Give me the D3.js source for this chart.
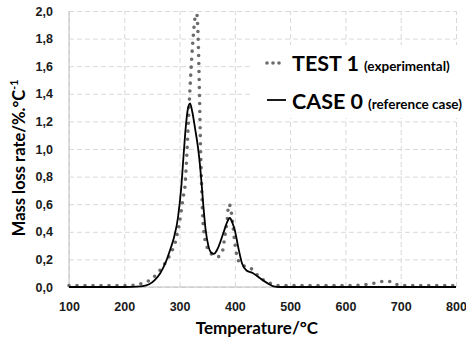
<!DOCTYPE html>
<html>
<head>
<meta charset="utf-8">
<script src="https://cdn.jsdelivr.net/npm/d3@7/dist/d3.min.js"></script>
<style>
  html, body { margin: 0; padding: 0; background: #fff; }
  svg { display: block; font-family: Lato, "Open Sans", "Liberation Sans", sans-serif; font-weight: bold; }
  .tick text { font-size: 12.5px; font-weight: bold; fill: #1a1a1a; }
  .gridline line { stroke: #d9d9d9; stroke-dasharray: 5 3; }
</style>
</head>
<body>
<div id="view"></div>
<script>
(function () {
  // ---------- Data ----------
  const xTicks = [100, 200, 300, 400, 500, 600, 700, 800];
  const yTicks = [0, 0.2, 0.4, 0.6, 0.8, 1.0, 1.2, 1.4, 1.6, 1.8, 2.0];

  // TEST 1 (experimental) - dotted
  const test1Temp = [100, 150, 200, 220, 235, 250, 260, 270, 278, 286, 292, 296, 300, 303, 306, 310,
                     313, 316, 319, 322, 325, 328, 331, 334, 336, 338, 340, 342, 345, 349, 355, 362,
                     370, 377, 382, 386, 389, 392, 396, 400, 404, 410, 418, 426, 434, 442, 452, 462,
                     472, 482, 550, 620, 640, 655, 668, 684, 695, 710, 800];
  const test1Rate = [0.01, 0.01, 0.01, 0.015, 0.03, 0.06, 0.10, 0.15, 0.20, 0.26, 0.32, 0.39, 0.47, 0.55, 0.64, 0.74,
                     0.95, 1.20, 1.45, 1.66, 1.83, 1.95, 1.98, 1.75, 1.40, 1.00, 0.72, 0.50, 0.37, 0.30, 0.25, 0.23,
                     0.22, 0.25, 0.37, 0.48, 0.60, 0.58, 0.46, 0.32, 0.22, 0.17, 0.15, 0.14, 0.12, 0.08, 0.05, 0.03,
                     0.015, 0.01, 0.01, 0.012, 0.02, 0.03, 0.04, 0.04, 0.015, 0.01, 0.01];

  // CASE 0 (reference case) - solid
  const case0Temp = [100, 200, 230, 245, 255, 265, 275, 283, 290, 297, 303, 307, 311, 315, 319, 323,
                     328, 333, 337, 340, 343, 347, 352, 357, 362, 368, 374, 380, 386, 391, 396, 400,
                     406, 413, 421, 433, 445, 458, 470, 480, 800];
  const case0Rate = [0, 0, 0.005, 0.02, 0.05, 0.10, 0.18, 0.27, 0.36, 0.50, 0.72, 0.94, 1.15, 1.29, 1.33, 1.27,
                     1.15, 1.02, 0.88, 0.74, 0.59, 0.42, 0.30, 0.25, 0.24, 0.27, 0.33, 0.40, 0.47, 0.50, 0.46, 0.41,
                     0.29, 0.17, 0.12, 0.10, 0.065, 0.03, 0.005, 0, 0];

  const test1 = test1Temp.map((t, i) => ({ t, v: test1Rate[i] }));
  const case0 = case0Temp.map((t, i) => ({ t, v: case0Rate[i] }));

  // ---------- Layout ----------
  const W = 466, H = 343;
  const M = { t: 11, r: 10, b: 56, l: 69 };
  const w = W - M.l - M.r, h = H - M.t - M.b;

  const svg = d3.select("#view").append("svg").attr("width", W).attr("height", H);
  const g = svg.append("g").attr("transform", `translate(${M.l},${M.t})`);

  const x = d3.scaleLinear().domain([100, 800]).range([0, w]);
  const y = d3.scaleLinear().domain([0, 2]).range([h, 0]);
  const fmtY = d3.format(".1f");

  // ---- Gridlines ----
  g.append("g")
    .attr("class", "gridline")
    .call(d3.axisLeft(y).tickValues(yTicks).tickSize(-w).tickFormat(""))
    .select(".domain").remove();
  g.append("g")
    .attr("class", "gridline")
    .attr("transform", `translate(0,${h})`)
    .call(d3.axisBottom(x).tickValues(xTicks).tickSize(-h).tickFormat(""))
    .select(".domain").remove();

  // ---- Axes (labels only, no tick marks) ----
  const yAxis = g.append("g")
    .call(d3.axisLeft(y).tickValues(yTicks).tickSize(0).tickPadding(16)
      .tickFormat(v => fmtY(v).replace(".", ",")));
  yAxis.select(".domain").remove();

  const xAxis = g.append("g")
    .attr("transform", `translate(0,${h})`)
    .call(d3.axisBottom(x).tickValues(xTicks).tickSize(0).tickPadding(15));
  xAxis.select(".domain").remove();

  // axis lines
  g.append("line").attr("x1", 0).attr("x2", 0).attr("y1", 0).attr("y2", h)
    .attr("stroke", "#bfbfbf").attr("stroke-width", 1);
  g.append("line").attr("x1", 0).attr("x2", w).attr("y1", h).attr("y2", h)
    .attr("stroke", "#bfbfbf").attr("stroke-width", 1);

  // ---- Series ----
  const line = d3.line().x(d => x(d.t)).y(d => y(d.v)).curve(d3.curveMonotoneX);

  g.append("path")
    .datum(test1)
    .attr("d", line)
    .attr("fill", "none")
    .attr("stroke", "#6b6b6b")
    .attr("stroke-width", 3.6)
    .attr("stroke-linecap", "round")
    .attr("stroke-dasharray", "0 8");

  g.append("path")
    .datum(case0)
    .attr("d", line)
    .attr("fill", "none")
    .attr("stroke", "#000")
    .attr("stroke-width", 1.8);

  // ---- Legend (white box over grid) ----
  const lg = svg.append("g");
  lg.append("rect").attr("x", 250).attr("y", 45).attr("width", 216).attr("height", 73).attr("fill", "#fff");

  lg.selectAll("circle.dot")
    .data([267, 273, 279])
    .join("circle")
    .attr("cx", d => d).attr("cy", 63).attr("r", 1.8).attr("fill", "#6b6b6b");
  lg.append("line").attr("x1", 267).attr("x2", 286).attr("y1", 100).attr("y2", 100)
    .attr("stroke", "#000").attr("stroke-width", 1.8);

  const t1 = lg.append("text").attr("x", 292).attr("y", 71).attr("fill", "#000");
  t1.append("tspan").attr("font-size", 21.5).text("TEST 1");
  t1.append("tspan").attr("font-size", 13.5).attr("dx", 5).text("(experimental)");

  const t2 = lg.append("text").attr("x", 292).attr("y", 109).attr("fill", "#000");
  t2.append("tspan").attr("font-size", 21.5).text("CASE 0");
  t2.append("tspan").attr("font-size", 13.5).attr("dx", 5).text("(reference case)");

  // ---- Axis titles ----
  svg.append("text")
    .attr("x", 257).attr("y", 334)
    .attr("text-anchor", "middle")
    .attr("font-size", 17)
    .text("Temperature/°C");

  const yt = svg.append("text")
    .attr("transform", "translate(25,158) rotate(-90)")
    .attr("text-anchor", "middle")
    .attr("font-size", 16.5);
  yt.append("tspan").text("Mass loss rate/%.°C");
  yt.append("tspan").attr("font-size", 10.5).attr("dy", -7).text("-1");
})();
</script>
</body>
</html>
